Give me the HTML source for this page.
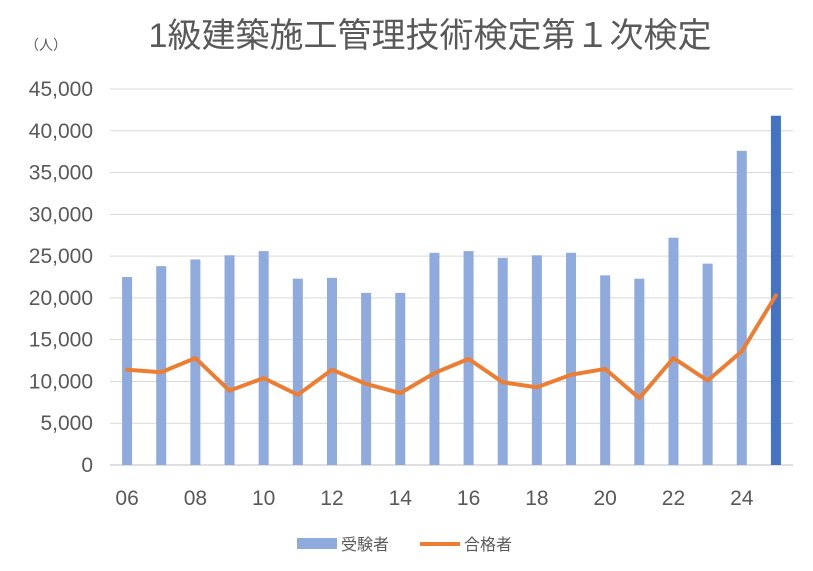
<!DOCTYPE html>
<html><head><meta charset="utf-8">
<style>
body{margin:0;background:#fff;}
svg{display:block;font-family:"Liberation Sans","Noto Sans CJK JP",sans-serif;}
</style></head>
<body>
<svg id="chart" width="813" height="571">
<rect width="813" height="571" fill="#fff"/>
<text x="430" y="47" font-size="34" fill="#595959" text-anchor="middle">1級建築施工管理技術検定第１次検定</text>
<text x="46" y="50" font-size="14" fill="#595959" text-anchor="middle">（人）</text>
<g id="grid"></g><g id="bars"></g><g id="line"></g><g id="labels"></g>
<g>
<rect x="297" y="538" width="40" height="11" fill="#8FAADC"/>
<text x="341" y="550" font-size="16" fill="#595959">受験者</text>
<line x1="420" y1="544" x2="460" y2="544" stroke="#ED7D31" stroke-width="4"/>
<text x="464" y="550" font-size="16" fill="#595959">合格者</text>
</g>
</svg>
<script>
const categories=["06","07","08","09","10","11","12","13","14","15","16","17","18","19","20","21","22","23","24","25"];
const examinees=[22500,23800,24600,25100,25600,22300,22400,20600,20600,25400,25600,24800,25100,25400,22700,22300,27200,24100,37600,41800];
const passers=[11400,11100,12800,8900,10400,8400,11400,9700,8600,11000,12700,9900,9300,10800,11500,8000,12800,10100,13600,20300];
const yTicks=[0,5000,10000,15000,20000,25000,30000,35000,40000,45000];
const NS="http://www.w3.org/2000/svg";
const x0=110,x1=793,yBase=465,yTop=89,yMax=45000;
const step=(x1-x0)/categories.length;
const xs=i=>x0+step*(i+0.5);
const ys=v=>yBase-(v/yMax)*(yBase-yTop);
function mk(tag,attrs,parent){const e=document.createElementNS(NS,tag);for(const k in attrs)e.setAttribute(k,attrs[k]);parent.appendChild(e);return e;}
const grid=document.getElementById('grid'),bars=document.getElementById('bars'),line=document.getElementById('line'),labels=document.getElementById('labels');
yTicks.forEach(t=>{
  const g=mk('line',{x1:x0,x2:x1,y1:ys(t),y2:ys(t),stroke:t===0?'#bfbfbf':'#d9d9d9','stroke-width':1},grid);
  
  
  const l=mk('text',{x:93,y:ys(t)+7,'font-size':21,fill:'#595959','text-anchor':'end'},labels);
  l.textContent=t.toLocaleString('en-US');
  
  
});
categories.forEach((c,i)=>{
  const v=examinees[i];
  const b=mk('rect',{x:xs(i)-5,y:ys(v),width:10,height:yBase-ys(v),fill:i===categories.length-1?'#4472C4':'#8FAADC'},bars);
  
  
  if(i%2===0){
    const t=mk('text',{x:xs(i),y:505,'font-size':21,fill:'#595959','text-anchor':'middle'},labels);
    t.textContent=c;
    
    
  }
});
const p=mk('polyline',{points:passers.map((v,i)=>xs(i)+','+ys(v)).join(' '),fill:'none',stroke:'#ED7D31','stroke-width':4,'stroke-linejoin':'round','stroke-linecap':'round'},line);


</script>
</body></html>
